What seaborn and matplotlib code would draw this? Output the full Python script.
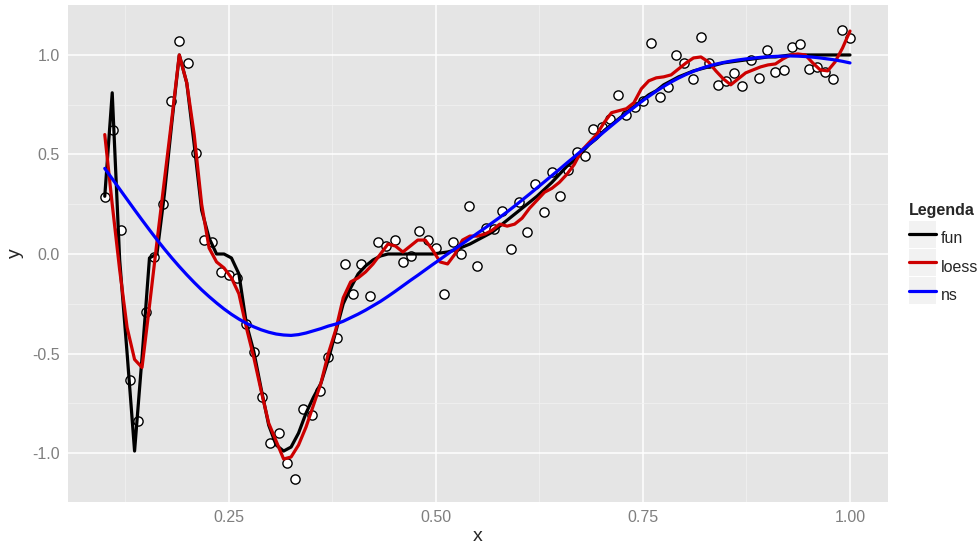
import numpy as np
import pandas as pd
import matplotlib
matplotlib.use("Agg")
import matplotlib.pyplot as plt
import seaborn as sns
from matplotlib.legend_handler import HandlerLine2D
from matplotlib.lines import Line2D
from matplotlib.patches import Rectangle

# noisy observations, x = 0.10 ... 1.00 step 0.01
obs_x = np.round(np.linspace(0.10, 1.00, 91), 2)
obs_y = [0.285, 0.625, 0.12, -0.635, -0.84, -0.29, -0.015, 0.25, 0.77, 1.07,
         0.96, 0.505, 0.07, 0.06, -0.09, -0.105, -0.12, -0.35, -0.49, -0.72,
         -0.95, -0.90, -1.05, -1.13, -0.78, -0.81, -0.69, -0.52, -0.42, -0.05,
         -0.20, -0.05, -0.21, 0.06, 0.04, 0.07, -0.04, -0.01, 0.115, 0.07,
         0.03, -0.20, 0.06, 0.0, 0.24, -0.06, 0.13, 0.125, 0.215, 0.025,
         0.26, 0.11, 0.35, 0.21, 0.41, 0.29, 0.42, 0.51, 0.49, 0.63,
         0.64, 0.68, 0.80, 0.70, 0.74, 0.77, 1.06, 0.79, 0.84, 1.00,
         0.96, 0.88, 1.09, 0.96, 0.85, 0.87, 0.91, 0.845, 0.975, 0.885,
         1.025, 0.915, 0.925, 1.04, 1.055, 0.93, 0.94, 0.915, 0.88, 1.125,
         1.085]

# curves evaluated on a 101 point grid
grid_x = np.linspace(0.10, 1.00, 101)
fun_y = [0.29, 0.81, -0.03, -0.50, -0.99, -0.52, -0.02, 0.00, 0.30, 0.66,
         1.00, 0.86, 0.55, 0.22, 0.08, 0.00, 0.00, -0.02, -0.10, -0.35,
         -0.49, -0.68, -0.86, -0.96, -0.99, -0.97, -0.90, -0.80, -0.72, -0.65,
         -0.53, -0.39, -0.25, -0.17, -0.10, -0.06, -0.03, -0.01, 0.00, 0.00,
         0.00, 0.00, 0.00, 0.00, 0.00, 0.005, 0.01, 0.02, 0.035, 0.05,
         0.07, 0.09, 0.11, 0.14, 0.17, 0.20, 0.23, 0.26, 0.29, 0.325,
         0.36, 0.40, 0.44, 0.47, 0.51, 0.55, 0.58, 0.62, 0.65, 0.68,
         0.71, 0.74, 0.77, 0.80, 0.82, 0.85, 0.87, 0.89, 0.905, 0.92,
         0.93, 0.94, 0.95, 0.96, 0.965, 0.97, 0.975, 0.98, 0.985, 0.99,
         0.99, 0.995, 1.0, 1.0, 1.0, 1.0, 1.0, 1.0, 1.0, 1.0,
         1.0]
loess_y = [0.60, 0.25, -0.08, -0.37, -0.53, -0.57, -0.26, 0.06, 0.37, 0.68,
           1.00, 0.86, 0.60, 0.25, 0.03, -0.04, -0.07, -0.12, -0.20, -0.37,
           -0.52, -0.69, -0.85, -0.94, -1.03, -1.02, -0.96, -0.87, -0.76, -0.65,
           -0.50, -0.38, -0.22, -0.14, -0.12, -0.09, -0.05, 0.00, 0.05, 0.04,
           0.01, 0.04, 0.07, 0.07, 0.02, -0.04, -0.05, 0.00, 0.07, 0.09,
           0.09, 0.10, 0.12, 0.15, 0.14, 0.15, 0.18, 0.23, 0.27, 0.31,
           0.33, 0.36, 0.40, 0.45, 0.52, 0.56, 0.60, 0.66, 0.71, 0.72,
           0.73, 0.76, 0.83, 0.87, 0.885, 0.89, 0.90, 0.93, 0.96, 0.985,
           0.99, 0.965, 0.92, 0.88, 0.85, 0.88, 0.91, 0.925, 0.94, 0.95,
           0.955, 0.98, 1.00, 1.005, 1.00, 0.96, 0.925, 0.92, 0.965, 1.035,
           1.12]
ns_y = [0.43, 0.378, 0.326, 0.274, 0.222, 0.171, 0.121, 0.072, 0.025, -0.020,
        -0.063, -0.104, -0.143, -0.180, -0.214, -0.246, -0.276, -0.303, -0.327, -0.348,
        -0.366, -0.381, -0.393, -0.402, -0.407, -0.409, -0.405, -0.397, -0.386, -0.375,
        -0.362, -0.352, -0.338, -0.320, -0.302, -0.282, -0.260, -0.238, -0.213, -0.187,
        -0.160, -0.133, -0.107, -0.080, -0.053, -0.027, 0.000, 0.026, 0.052, 0.078,
        0.104, 0.130, 0.157, 0.184, 0.212, 0.241, 0.271, 0.301, 0.332, 0.363,
        0.394, 0.425, 0.457, 0.488, 0.520, 0.551, 0.582, 0.614, 0.645, 0.676,
        0.707, 0.736, 0.765, 0.792, 0.818, 0.842, 0.864, 0.884, 0.902, 0.918,
        0.932, 0.944, 0.954, 0.962, 0.969, 0.975, 0.980, 0.984, 0.988, 0.991,
        0.993, 0.994, 0.995, 0.994, 0.992, 0.989, 0.985, 0.980, 0.975, 0.968,
        0.960]

series_names = ["fun", "loess", "ns"]
series_colors = ["black", "#CD0000", "#0000FF"]
x_ticks = [0.25, 0.50, 0.75, 1.00]
x_tick_labels = ["0.25", "0.50", "0.75", "1.00"]
y_ticks = [-1.0, -0.5, 0.0, 0.5, 1.0]
y_tick_labels = ["-1.0", "-0.5", "0.0", "0.5", "1.0"]

curves = pd.concat([
    pd.DataFrame({"x": grid_x, "y": fun_y, "curve": "fun"}),
    pd.DataFrame({"x": grid_x, "y": loess_y, "curve": "loess"}),
    pd.DataFrame({"x": grid_x, "y": ns_y, "curve": "ns"}),
], ignore_index=True)
points = pd.DataFrame({"x": obs_x, "y": obs_y})

sns.set_style("darkgrid")
plt.rcParams["font.family"] = ["Liberation Sans", "DejaVu Sans"]
plt.rcParams["axes.unicode_minus"] = False

LW = 2.3
GREY = "#7F7F7F"


class KeyHandler(HandlerLine2D):
    # legend key with the grey ggplot-like background square
    def create_artists(self, legend, orig_handle, xdescent, ydescent,
                       width, height, fontsize, trans):
        artists = super().create_artists(legend, orig_handle, xdescent, ydescent,
                                         width, height, fontsize, trans)
        yc = (height - ydescent) / 2
        bg = Rectangle((-xdescent, yc - height / 2), width, height,
                       facecolor="#F2F2F2", edgecolor="none", transform=trans)
        return [bg] + list(artists)


fig = plt.figure(figsize=(9.8, 5.45), dpi=100)
ax = fig.add_axes([68 / 980, 43 / 545, 820 / 980, 497 / 545])
ax.set_facecolor("#E5E5E5")

sns.scatterplot(data=points, x="x", y="y", s=44, color="white",
                edgecolor="black", linewidth=1.0, zorder=2, ax=ax)
sns.lineplot(data=curves, x="x", y="y", hue="curve",
             palette=dict(zip(series_names, series_colors)),
             estimator=None, linewidth=LW, legend=False, zorder=3, ax=ax)

ax.set_xlim(0.0556, 1.0459)
ax.set_ylim(-1.246, 1.251)
ax.set_xticks(x_ticks, x_tick_labels)
ax.set_yticks(y_ticks, y_tick_labels)
ax.set_xticks([0.125, 0.375, 0.625, 0.875], minor=True)
ax.set_yticks([-0.75, -0.25, 0.25, 0.75], minor=True)
ax.grid(which="major", color="white", linewidth=1.1)
ax.grid(which="minor", color="#F2F2F2", linewidth=0.5)
ax.set_axisbelow(True)
for s in ax.spines.values():
    s.set_visible(False)
ax.tick_params(which="major", length=4, width=1, color=GREY,
               labelcolor=GREY, labelsize=11.5, pad=2)
ax.tick_params(which="minor", length=0)
ax.set_xlabel("x", fontsize=14, labelpad=2)
ax.set_ylabel("y", fontsize=14, labelpad=6)

handles = [Line2D([], [], color=c, lw=LW) for c in series_colors]
leg = fig.legend(handles, series_names, title="Legenda", loc="upper left",
                 bbox_to_anchor=(909 / 980, 1 - 203 / 545), frameon=False,
                 handler_map={Line2D: KeyHandler()}, handlelength=1.7,
                 handleheight=2.2, labelspacing=0.1, handletextpad=0.3,
                 borderpad=0, borderaxespad=0, fontsize=11.5,
                 title_fontproperties={"weight": "bold", "size": 11.5},
                 alignment="left")
leg._legend_box.sep = 5  # a little more room under the title

fig.savefig("out.png", dpi=100)
